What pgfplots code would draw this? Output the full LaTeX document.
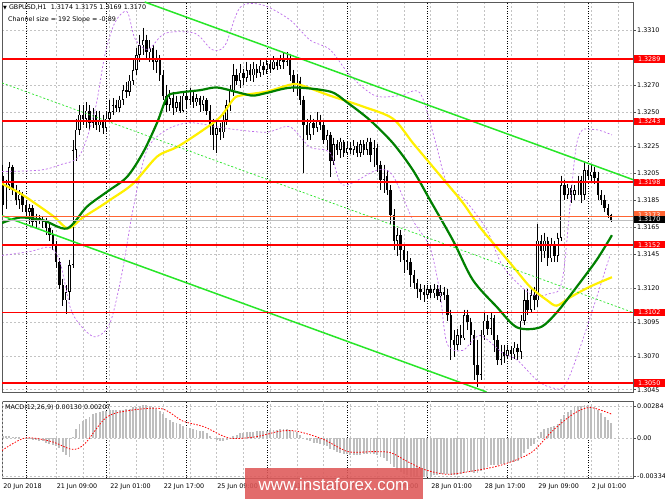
\documentclass[border=0pt]{standalone}
\usepackage{pgfplots}
\pgfplotsset{compat=1.18}
\usepackage{pgfplotstable}
\usepackage{fontspec}
\setmainfont{DejaVu Sans}
\newfontfamily\wmfont{Liberation Sans}
\newcommand\lab{\fontsize{6.4}{7}\selectfont}

\definecolor{mtred}{RGB}{255,0,0}
\definecolor{mtlime}{RGB}{40,230,40}
\definecolor{mtgreen}{RGB}{0,128,0}
\definecolor{mtyellow}{RGB}{255,240,0}
\definecolor{mtviolet}{RGB}{190,110,235}
\definecolor{mtgrid}{RGB}{195,195,195}
\definecolor{mtsilver}{RGB}{190,190,190}
\definecolor{mtask}{RGB}{255,100,50}
\definecolor{wmred}{RGB}{222,88,88}

\pgfplotsset{candle/.style={only marks, mark=none, mark size=0pt,
  mark options={draw=none, fill=none}, forget plot,
  error bars/.cd, y dir=minus, y explicit, error mark=none}}

% hourly bars, i = 0 is 21 Jun 00:00
\pgfplotstableread{
i o h l c m
-7 1.3203 1.3211 1.3174 1.3181 0.0002
-6 1.3181 1.3200 1.3178 1.3196 0.0002
-5 1.3196 1.3213 1.3192 1.3209 0.0002
-4 1.3209 1.3211 1.3189 1.3192 0.0001
-3 1.3192 1.3196 1.3181 1.3185 0.0001
-2 1.3185 1.3192 1.3178 1.3189 0.0001
-1 1.3189 1.3191 1.3176 1.3181 0.0000
0 1.3181 1.3185 1.3172 1.3176 -0.0001
1 1.3176 1.3182 1.3167 1.3179 -0.0001
2 1.3179 1.3181 1.3166 1.3169 -0.0002
3 1.3169 1.3175 1.3164 1.3172 -0.0002
4 1.3172 1.3174 1.3167 1.3170 -0.0003
5 1.3170 1.3173 1.3164 1.3169 -0.0003
6 1.3169 1.3172 1.3159 1.3164 -0.0004
7 1.3164 1.3167 1.3155 1.3159 -0.0005
8 1.3159 1.3163 1.3148 1.3152 -0.0006
9 1.3152 1.3155 1.3135 1.3139 -0.0007
10 1.3139 1.3142 1.3119 1.3122 -0.0009
11 1.3122 1.3127 1.3107 1.3111 -0.0012
12 1.3111 1.3122 1.3101 1.3117 -0.0015
13 1.3117 1.3141 1.3111 1.3137 -0.0017
14 1.3137 1.3229 1.3135 1.3222 0.0001
15 1.3222 1.3245 1.3214 1.3237 0.0008
16 1.3237 1.3255 1.3233 1.3248 0.0012
17 1.3248 1.3255 1.3240 1.3245 0.0015
18 1.3245 1.3257 1.3238 1.3251 0.0017
19 1.3251 1.3255 1.3237 1.3242 0.0019
20 1.3242 1.3253 1.3238 1.3248 0.0021
21 1.3248 1.3251 1.3237 1.3240 0.0022
22 1.3240 1.3251 1.3235 1.3244 0.0023
23 1.3244 1.3248 1.3234 1.3238 0.0024
24 1.3238 1.3250 1.3235 1.3245 0.0024
25 1.3245 1.3259 1.3244 1.3250 0.0025
26 1.3250 1.3260 1.3248 1.3255 0.0025
27 1.3255 1.3259 1.3250 1.3253 0.0025
28 1.3253 1.3262 1.3250 1.3259 0.0025
29 1.3259 1.3270 1.3255 1.3266 0.0025
30 1.3266 1.3272 1.3260 1.3265 0.0026
31 1.3265 1.3277 1.3262 1.3273 0.0026
32 1.3273 1.3288 1.3270 1.3281 0.0027
33 1.3281 1.3297 1.3277 1.3292 0.0027
34 1.3292 1.3307 1.3287 1.3299 0.0028
35 1.3299 1.3312 1.3292 1.3303 0.0029
36 1.3303 1.3307 1.3288 1.3294 0.0029
37 1.3294 1.3303 1.3287 1.3297 0.0028
38 1.3297 1.3299 1.3281 1.3287 0.0027
39 1.3287 1.3296 1.3279 1.3290 0.0026
40 1.3290 1.3292 1.3273 1.3277 0.0024
41 1.3277 1.3281 1.3259 1.3262 0.0021
42 1.3262 1.3270 1.3250 1.3255 0.0018
43 1.3255 1.3266 1.3251 1.3260 0.0016
44 1.3260 1.3265 1.3248 1.3253 0.0014
45 1.3253 1.3262 1.3250 1.3257 0.0013
46 1.3257 1.3262 1.3249 1.3251 0.0012
47 1.3251 1.3265 1.3250 1.3262 0.0011
48 1.3262 1.3266 1.3253 1.3259 0.0010
49 1.3259 1.3268 1.3255 1.3262 0.0009
50 1.3262 1.3265 1.3253 1.3257 0.0008
51 1.3257 1.3263 1.3254 1.3260 0.0007
52 1.3260 1.3262 1.3250 1.3255 0.0006
53 1.3255 1.3262 1.3251 1.3259 0.0006
54 1.3259 1.3260 1.3248 1.3251 0.0004
55 1.3251 1.3255 1.3233 1.3240 0.0002
56 1.3240 1.3245 1.3222 1.3233 0.0000
57 1.3233 1.3244 1.3220 1.3238 -0.0002
58 1.3238 1.3242 1.3229 1.3235 -0.0003
59 1.3235 1.3248 1.3231 1.3244 -0.0003
60 1.3244 1.3259 1.3240 1.3255 -0.0002
61 1.3255 1.3270 1.3251 1.3266 0.0000
62 1.3266 1.3285 1.3262 1.3277 0.0002
63 1.3277 1.3282 1.3270 1.3273 0.0003
64 1.3273 1.3285 1.3268 1.3279 0.0004
65 1.3279 1.3282 1.3270 1.3275 0.0004
66 1.3275 1.3287 1.3272 1.3281 0.0005
67 1.3281 1.3285 1.3273 1.3277 0.0005
68 1.3277 1.3287 1.3272 1.3282 0.0005
69 1.3282 1.3285 1.3275 1.3279 0.0006
70 1.3279 1.3288 1.3276 1.3284 0.0006
71 1.3284 1.3287 1.3277 1.3281 0.0006
72 1.3281 1.3290 1.3278 1.3285 0.0006
73 1.3285 1.3288 1.3279 1.3282 0.0007
74 1.3282 1.3291 1.3281 1.3287 0.0007
75 1.3287 1.3290 1.3281 1.3284 0.0007
76 1.3284 1.3292 1.3282 1.3288 0.0008
77 1.3288 1.3294 1.3282 1.3287 0.0008
78 1.3287 1.3294 1.3284 1.3290 0.0008
79 1.3290 1.3293 1.3273 1.3277 0.0007
80 1.3277 1.3281 1.3265 1.3270 0.0006
81 1.3270 1.3278 1.3262 1.3273 0.0005
82 1.3273 1.3276 1.3255 1.3259 0.0003
83 1.3259 1.3262 1.3205 1.3240 0.0000
84 1.3240 1.3245 1.3229 1.3233 -0.0002
85 1.3233 1.3248 1.3229 1.3242 -0.0003
86 1.3242 1.3245 1.3233 1.3238 -0.0004
87 1.3238 1.3250 1.3235 1.3244 -0.0004
88 1.3244 1.3248 1.3237 1.3240 -0.0005
89 1.3240 1.3244 1.3226 1.3229 -0.0006
90 1.3229 1.3237 1.3222 1.3233 -0.0007
91 1.3233 1.3235 1.3202 1.3214 -0.0010
92 1.3214 1.3231 1.3211 1.3226 -0.0011
93 1.3226 1.3229 1.3218 1.3222 -0.0012
94 1.3222 1.3231 1.3216 1.3228 -0.0013
95 1.3228 1.3229 1.3217 1.3220 -0.0014
96 1.3220 1.3228 1.3218 1.3223 -0.0014
97 1.3223 1.3228 1.3219 1.3222 -0.0015
98 1.3222 1.3229 1.3218 1.3225 -0.0015
99 1.3225 1.3228 1.3217 1.3220 -0.0015
100 1.3220 1.3229 1.3217 1.3226 -0.0015
101 1.3226 1.3229 1.3218 1.3222 -0.0014
102 1.3222 1.3231 1.3218 1.3228 -0.0014
103 1.3228 1.3231 1.3213 1.3218 -0.0014
104 1.3218 1.3229 1.3209 1.3223 -0.0014
105 1.3223 1.3226 1.3206 1.3211 -0.0015
106 1.3211 1.3214 1.3192 1.3200 -0.0017
107 1.3200 1.3211 1.3190 1.3203 -0.0018
108 1.3203 1.3207 1.3189 1.3192 -0.0020
109 1.3192 1.3196 1.3167 1.3174 -0.0023
110 1.3174 1.3178 1.3148 1.3155 -0.0026
111 1.3155 1.3164 1.3144 1.3159 -0.0028
112 1.3159 1.3163 1.3139 1.3148 -0.0030
113 1.3148 1.3152 1.3131 1.3141 -0.0032
114 1.3141 1.3147 1.3133 1.3139 -0.0033
115 1.3139 1.3142 1.3121 1.3130 -0.0034
116 1.3130 1.3133 1.3119 1.3124 -0.0034
117 1.3124 1.3127 1.3113 1.3119 -0.0034
118 1.3119 1.3123 1.3111 1.3117 -0.0034
119 1.3117 1.3122 1.3110 1.3115 -0.0034
120 1.3115 1.3122 1.3113 1.3119 -0.0034
121 1.3119 1.3122 1.3113 1.3116 -0.0034
122 1.3116 1.3123 1.3113 1.3119 -0.0033
123 1.3119 1.3122 1.3111 1.3114 -0.0033
124 1.3114 1.3122 1.3110 1.3117 -0.0032
125 1.3117 1.3121 1.3111 1.3115 -0.0032
126 1.3115 1.3119 1.3096 1.3100 -0.0032
127 1.3100 1.3104 1.3067 1.3082 -0.0033
128 1.3082 1.3089 1.3069 1.3078 -0.0033
129 1.3078 1.3090 1.3074 1.3085 -0.0033
130 1.3085 1.3093 1.3078 1.3083 -0.0032
131 1.3083 1.3104 1.3082 1.3100 -0.0031
132 1.3100 1.3104 1.3089 1.3095 -0.0030
133 1.3095 1.3098 1.3078 1.3085 -0.0030
134 1.3085 1.3089 1.3052 1.3063 -0.0031
135 1.3063 1.3082 1.3047 1.3056 -0.0031
136 1.3056 1.3089 1.3052 1.3085 -0.0029
137 1.3085 1.3102 1.3082 1.3096 -0.0027
138 1.3096 1.3100 1.3085 1.3090 -0.0026
139 1.3090 1.3102 1.3085 1.3098 -0.0024
140 1.3098 1.3100 1.3073 1.3082 -0.0024
141 1.3082 1.3085 1.3063 1.3067 -0.0024
142 1.3067 1.3078 1.3063 1.3073 -0.0023
143 1.3073 1.3078 1.3065 1.3070 -0.0023
144 1.3070 1.3078 1.3068 1.3074 -0.0022
145 1.3074 1.3077 1.3067 1.3071 -0.0021
146 1.3071 1.3080 1.3068 1.3076 -0.0021
147 1.3076 1.3079 1.3067 1.3073 -0.0020
148 1.3073 1.3100 1.3068 1.3096 -0.0017
149 1.3096 1.3119 1.3093 1.3111 -0.0013
150 1.3111 1.3119 1.3100 1.3104 -0.0010
151 1.3104 1.3120 1.3102 1.3115 -0.0007
152 1.3115 1.3121 1.3104 1.3111 -0.0005
153 1.3111 1.3167 1.3106 1.3155 0.0002
154 1.3155 1.3159 1.3139 1.3147 0.0005
155 1.3147 1.3161 1.3142 1.3155 0.0008
156 1.3155 1.3158 1.3136 1.3142 0.0009
157 1.3142 1.3157 1.3139 1.3152 0.0010
158 1.3152 1.3155 1.3139 1.3144 0.0011
159 1.3144 1.3161 1.3139 1.3157 0.0012
160 1.3157 1.3203 1.3155 1.3196 0.0017
161 1.3196 1.3200 1.3185 1.3189 0.0020
162 1.3189 1.3197 1.3186 1.3194 0.0023
163 1.3194 1.3196 1.3183 1.3189 0.0025
164 1.3189 1.3196 1.3185 1.3192 0.0027
165 1.3192 1.3203 1.3189 1.3200 0.0028
166 1.3200 1.3203 1.3183 1.3189 0.0028
167 1.3189 1.3213 1.3185 1.3207 0.0029
168 1.3207 1.3211 1.3200 1.3203 0.0029
169 1.3203 1.3211 1.3198 1.3206 0.0028
170 1.3206 1.3209 1.3197 1.3201 0.0027
171 1.3201 1.3206 1.3185 1.3189 0.0025
172 1.3189 1.3192 1.3181 1.3185 0.0022
173 1.3185 1.3189 1.3176 1.3179 0.0019
174 1.3179 1.3182 1.3172 1.3174 0.0016
175 1.3174 1.3175 1.3169 1.3170 0.0013
}\candles

\begin{document}
\begin{tikzpicture}
\fill[white] (0bp,0bp) rectangle (665bp,499bp);

% ---------------- price panel ----------------
\begin{axis}[
  at={(2bp,107bp)}, anchor=south west,
  width=631bp, height=390bp, scale only axis,
  xmin=-7.17, xmax=181.5, ymin=1.30433, ymax=1.33311,
  axis line style={black!65, line width=0.7bp},
  xtick={9,17,...,177}, xticklabels={}, xtick style={draw=none},
  ytick={1.3045,1.3070,1.3095,1.3120,1.3145,1.3165,1.3185,1.3205,1.3225,1.3250,1.3270,1.3310},
  yticklabels={1.3045,1.3070,1.3095,1.3120,1.3145,1.3165,1.3185,1.3205,1.3225,1.3250,1.3270,1.3310},
  ytick pos=right, yticklabel pos=right,
  tick align=outside, major tick length=2.5bp,
  ytick style={black!70, line width=0.5bp},
  yticklabel style={font=\lab, inner xsep=1.5bp},
  xmajorgrids, ymajorgrids,
  grid style={mtgrid, line width=0.45bp, dash pattern=on 2bp off 2bp},
]
\pgfplotsinvokeforeach{0,24,48,72,96,120,144,168}{
  \addplot[black, line width=0.5bp, dash pattern=on 1bp off 1.5bp] coordinates {(#1,1.30433) (#1,1.33311)};
}
% candles: wicks
\addplot[candle, error bar style={draw=black, line width=0.6bp}]
  table[x=i, y=h, y error expr={\thisrow{h}-\thisrow{l}}] {\candles};
% bodies (black), then white inside for rising bars
\addplot[candle, error bar style={draw=black, line width=2.4bp}]
  table[x=i, y expr={max(\thisrow{o},\thisrow{c})},
        y error expr={max(abs(\thisrow{o}-\thisrow{c}),0.00003)}] {\candles};
\addplot[candle, error bar style={draw=white, line width=0.9bp}]
  table[x=i, y expr={\thisrow{c}-0.00005},
        y error expr={max(\thisrow{c}-\thisrow{o}-0.0001,0)}] {\candles};

% envelope bands
\addplot[mtviolet, line width=0.7bp, dash pattern=on 2bp off 2bp, smooth] coordinates {
(-7.2,1.3206) (4.2,1.3207) (10.2,1.3211) (16.1,1.3218) (20.6,1.3251) (23.6,1.3292)
(26.6,1.3316) (30.2,1.3324) (32.6,1.3304) (36.5,1.3296) (41.6,1.3308) (50.5,1.3308)
(55.6,1.3296) (59.5,1.3299) (64,1.3327) (70.6,1.3329) (78.9,1.3318) (84.9,1.3303)
(90.9,1.3296) (96.9,1.3277) (104.3,1.3262) (111.8,1.3262) (117.8,1.3264) (122.3,1.3229)
(125.9,1.3197) (131.2,1.3185) (137.8,1.3163) (142.6,1.3136) (150.7,1.3116) (156.6,1.3116)
(160.5,1.3128) (164.7,1.3227) (169.4,1.3237) (175.2,1.3233)};
\addplot[mtviolet, line width=0.7bp, dash pattern=on 2bp off 2bp, smooth] coordinates {
(-7.2,1.3144) (1.2,1.3147) (7.2,1.3150) (10.2,1.3139) (13.2,1.3106) (16.1,1.3093)
(20.6,1.3084) (25.1,1.3094) (28.7,1.3131) (32,1.3178) (36.2,1.3222) (42.2,1.3237)
(49,1.3242) (57.1,1.3239) (62.5,1.3237) (72,1.3235) (78.9,1.3239) (84.9,1.3224)
(90.9,1.3220) (94.8,1.3196) (104.9,1.3207) (109.7,1.3203) (115.7,1.3170) (120.8,1.3150)
(123.8,1.3116) (125.9,1.3079) (130.6,1.3074) (135.7,1.3085) (142.6,1.3072) (146.8,1.3067)
(152.8,1.3052) (156.6,1.3047) (161.1,1.3048) (166.5,1.3082) (174.6,1.3144)};

% moving averages
\addplot[mtyellow, line width=2.2bp, smooth] coordinates {
(-7.2,1.3197) (-1.8,1.3190) (4.2,1.3180) (8.7,1.3172) (12.6,1.3164) (17,1.3172)
(22.1,1.3180) (25.1,1.3185) (32,1.3197) (39.2,1.3217) (45.1,1.3224) (52,1.3235)
(58,1.3246) (61.9,1.3259) (64,1.3262) (72,1.3265) (78.9,1.3270) (81.9,1.3270)
(90.9,1.3262) (100.7,1.3254) (109.7,1.3245) (115.7,1.3227) (120.8,1.3212) (125.9,1.3197)
(130.6,1.3183) (135.7,1.3165) (140.8,1.3150) (145.6,1.3136) (150.7,1.3121) (155.8,1.3111)
(158.7,1.3107) (162.6,1.3113) (168.6,1.3121) (175.2,1.3128)};
\addplot[mtgreen, line width=2.2bp, smooth] coordinates {
(-7.17,1.3168) (-1.8,1.3172) (5.1,1.3170) (12.3,1.3164) (18.2,1.3180) (24.2,1.3191)
(30.2,1.3202) (35,1.3220) (39.2,1.3242) (42.2,1.3261) (45.1,1.3264) (52,1.3266)
(57.1,1.3268) (64,1.3264) (67.9,1.3262) (72,1.3264) (79.8,1.3268) (90.9,1.3265)
(96,1.3257) (102.8,1.3244) (109.7,1.3227) (115.7,1.3207) (120.8,1.3185) (127.7,1.3155)
(133.6,1.3126) (140.8,1.3106) (146.8,1.3091) (153.7,1.3091) (158.7,1.3102) (164.7,1.3121)
(170.7,1.3141) (175.2,1.3159)};

% regression channel
\addplot[mtlime, line width=1.5bp] coordinates {(35.5,1.33311) (181.5,1.3200)};
\addplot[mtlime, line width=0.7bp, dash pattern=on 2bp off 2bp] coordinates {(-7.17,1.32714) (181.5,1.3102)};
\addplot[mtlime, line width=1.5bp] coordinates {(-7.17,1.31734) (137.7,1.30433)};

% levels
\pgfplotsinvokeforeach{1.3289,1.3243,1.3198,1.3152,1.3102,1.3050}{
  \addplot[mtred, line width=1.8bp] coordinates {(-7.17,#1) (181.5,#1)};
}
\addplot[mtsilver, line width=0.6bp] coordinates {(-7.17,1.3170) (181.5,1.3170)};
\addplot[mtask, line width=0.5bp] coordinates {(-7.17,1.3173) (181.5,1.3173)};
\end{axis}

% price labels on the right edge (y in bp: 107 + (p-1.30433)*13551)
\foreach \p/\yy in {1.3289/440.0, 1.3243/377.6, 1.3198/316.7, 1.3152/254.3, 1.3102/186.6, 1.3050/116.1}{
  \node[fill=mtred, text=white, font=\lab, inner xsep=1.5bp, inner ysep=1.2bp,
        anchor=west, minimum width=31bp] at (633.5bp,\yy bp) {\p};
}
\node[fill=mtask, text=white, font=\lab, inner xsep=1.5bp, inner ysep=1.2bp,
      anchor=west, minimum width=31bp] at (633.5bp,284.2bp) {1.3173};
\node[fill=black, text=white, font=\lab, inner xsep=1.5bp, inner ysep=1.2bp,
      anchor=west, minimum width=31bp] at (633.5bp,279.4bp) {1.3170};

% ---------------- MACD panel ----------------
\begin{axis}[
  at={(2bp,21bp)}, anchor=south west,
  width=631bp, height=77bp, scale only axis,
  xmin=-7.17, xmax=181.5, ymin=-0.00353, ymax=0.00327,
  axis line style={black!65, line width=0.7bp},
  scaled y ticks=false,
  xtick={9,17,...,177}, xticklabels={}, xtick style={draw=none},
  extra x ticks={-7,9,25,41,57,73,89,105,121,137,153,169},
  extra x tick labels={20 Jun 2018,21 Jun 09:00,22 Jun 01:00,22 Jun 17:00,25 Jun 09:00,26 Jun 01:00,26 Jun 17:00,27 Jun 09:00,28 Jun 01:00,28 Jun 17:00,29 Jun 09:00,2 Jul 01:00},
  extra x tick style={xticklabel style={anchor=north west, font=\lab, inner xsep=0.5bp}},
  ytick={-0.00334,0,0.00284},
  yticklabels={-0.00334,0.00,0.00284},
  ytick pos=right, yticklabel pos=right,
  tick align=outside, major tick length=2.5bp,
  ytick style={black!70, line width=0.5bp},
  yticklabel style={font=\lab, inner xsep=1.5bp},
  xmajorgrids, ymajorgrids,
  grid style={mtgrid, line width=0.45bp, dash pattern=on 2bp off 2bp},
]
\pgfplotsinvokeforeach{0,24,48,72,96,120,144,168}{
  \addplot[black, line width=0.5bp, dash pattern=on 1bp off 1.5bp] coordinates {(#1,-0.00353) (#1,0.00327)};
}
\addplot[ycomb, mtsilver, line width=1.9bp] table[x=i, y=m] {\candles};
\addplot[red, line width=0.8bp, dash pattern=on 1.5bp off 1.5bp, smooth] coordinates {
(-7.17,-0.0011) (-0.3,0.0000) (7.5,-0.0003) (13.8,-0.0010) (17.6,-0.0005) (23.9,0.0018)
(30.2,0.0024) (40.4,0.0026) (46.9,0.0015) (53.2,0.0010) (60.7,0.0000) (68.5,0.0001)
(75.9,0.0006) (81,0.0006) (88.8,-0.0001) (96.3,-0.0012) (104,-0.0012) (109.1,-0.0013)
(114.2,-0.0021) (119.3,-0.0028) (125.6,-0.0032) (131.8,-0.0030) (142,-0.0024) (151,-0.0013)
(157.3,0.0006) (163.5,0.0021) (168.6,0.0027) (175.2,0.0021)};
\end{axis}

% texts
\node[anchor=west, font=\lab, inner sep=0] at (3bp,491bp) {{\fontsize{5}{5}\selectfont ▼} GBPUSD,H1\ \ 1.3174 1.3175 1.3169 1.3170};
\node[anchor=west, font=\lab, inner sep=0] at (8bp,479bp) {Channel size = 192 Slope = -0.89};
\node[anchor=west, font=\lab, inner sep=0] at (5bp,91bp) {MACD(12,26,9) 0.00130 0.00207};

% watermark
\fill[wmred, fill opacity=0.88] (245bp,0bp) rectangle (423bp,31bp);
\node[text=white, font=\wmfont\fontsize{17}{17}\selectfont] at (334bp,15bp) {www.instaforex.com};

\pgfresetboundingbox
\useasboundingbox (0bp,0bp) rectangle (665bp,499bp);
\end{tikzpicture}
\end{document}
